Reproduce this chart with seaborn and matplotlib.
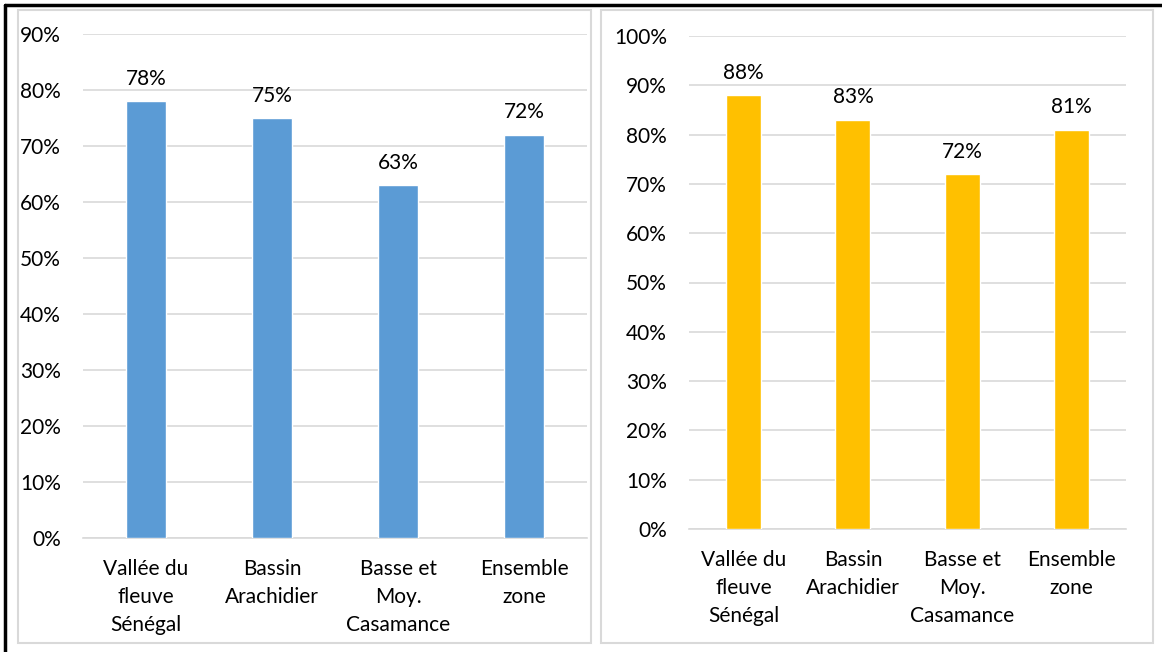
import matplotlib
matplotlib.use("Agg")
import matplotlib.pyplot as plt
from matplotlib.patches import Rectangle
from matplotlib.lines import Line2D
import seaborn as sns
import pandas as pd

# Zones and shares (%) for the two panels
zones = ["Vallée du\nfleuve\nSénégal", "Bassin\nArachidier", "Basse et\nMoy.\nCasamance", "Ensemble\nzone"]
left_values = [78, 75, 63, 72]
right_values = [88, 83, 72, 81]
left_ticks = [0, 10, 20, 30, 40, 50, 60, 70, 80, 90]
right_ticks = [0, 10, 20, 30, 40, 50, 60, 70, 80, 90, 100]

sns.set_theme(style="white")
plt.rcParams["font.family"] = ["Lato", "DejaVu Sans"]

W, H = 1162, 652
FS = 15
fig = plt.figure(figsize=(W / 100, H / 100), dpi=100)
fig.patch.set_facecolor("white")


def px_axes(x0, y_top, x1, y_bottom):
    return fig.add_axes([x0 / W, 1 - y_bottom / H, (x1 - x0) / W, (y_bottom - y_top) / H])


def panel_box(x0, y0, x1, y1):
    fig.patches.append(Rectangle((x0 / W, 1 - y1 / H), (x1 - x0) / W, (y1 - y0) / H,
                                 transform=fig.transFigure, fill=False,
                                 edgecolor="#D9D9D9", linewidth=1.5, zorder=0))


# outer frame (top and left edges)
fig.add_artist(Line2D([5 / W, 5 / W], [0, 1 - 5 / H], transform=fig.transFigure, color="black", lw=2.5))
fig.add_artist(Line2D([5 / W, 1], [1 - 5 / H, 1 - 5 / H], transform=fig.transFigure, color="black", lw=2.5))

panel_box(18, 10, 591, 643)
panel_box(601, 10, 1153, 643)


def draw(ax, values, ticks, color, ymax):
    df = pd.DataFrame({"zone": zones, "value": values})
    sns.barplot(data=df, x="zone", y="value", color=color, saturation=1, width=0.32, ax=ax, zorder=3)
    ax.set_ylim(0, ymax)
    ax.set_yticks(ticks)
    ax.set_yticklabels([f"{t}%" for t in ticks], fontsize=FS, color="#000000")
    ax.yaxis.grid(True, color="#D9D9D9", linewidth=1.2, zorder=0)
    ax.set_axisbelow(True)
    for s in ["top", "right", "left"]:
        ax.spines[s].set_visible(False)
    ax.spines["bottom"].set_color("#D9D9D9")
    ax.spines["bottom"].set_linewidth(1.2)
    ax.tick_params(axis="y", length=0, pad=16)
    ax.tick_params(axis="x", length=0, pad=15)
    ax.set_xticks(range(len(zones)))
    ax.set_xticklabels(zones, fontsize=FS, color="#000000", linespacing=1.5)
    ax.set_xlabel("")
    ax.set_ylabel("")
    ax.set_facecolor("white")
    for i, v in enumerate(values):
        ax.annotate(f"{v}%", (i, v), xytext=(0, 9), textcoords="offset points",
                    ha="center", va="bottom", fontsize=FS, color="#000000")


ax1 = px_axes(83, 34, 587, 538)
draw(ax1, left_values, left_ticks, "#5B9BD5", 90)

ax2 = px_axes(689, 36, 1126, 529)
draw(ax2, right_values, right_ticks, "#FFC000", 100)

fig.savefig("out.png", dpi=100)
